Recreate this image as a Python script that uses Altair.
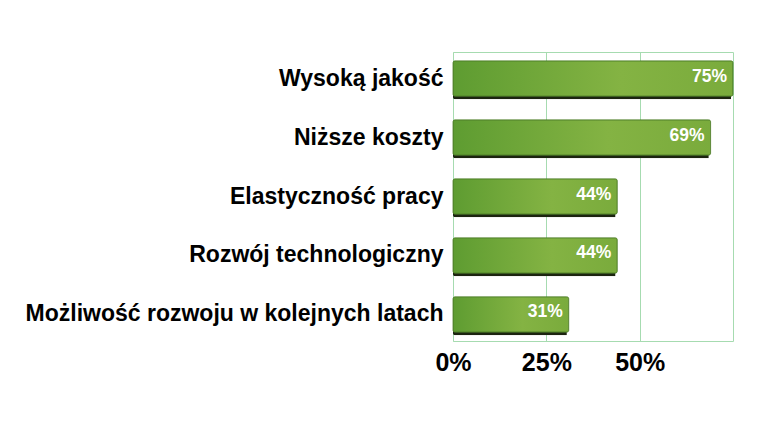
import altair as alt
import pandas as pd

categories = ["Wysoką jakość\u00a0", "Niższe koszty", "Elastyczność pracy",
              "Rozwój technologiczny", "Możliwość rozwoju w kolejnych latach"]
values = [75, 69, 44, 44, 31]
labels = ["75%", "69%", "44%", "44%", "31%"]
tick_values = [0, 25, 50]

df = pd.DataFrame({"cat": categories, "val": values, "lab": labels})

FONT = "Liberation Sans"
GRID = "#a6dbb0"

y_enc = alt.Y("cat:N", sort=categories, title=None,
              scale=alt.Scale(paddingInner=0.4, paddingOuter=0.15),
              axis=alt.Axis(labelFont=FONT, labelFontSize=23, labelFontWeight="bold",
                            labelColor="#000000", labelPadding=10, labelLimit=600,
                            ticks=False, domain=False, grid=False))
x_enc = alt.X("val:Q", title=None, scale=alt.Scale(domain=[0, 75], nice=False),
              axis=alt.Axis(values=tick_values, labelExpr="datum.value + '%'",
                            labelFont=FONT, labelFontSize=25, labelFontWeight="bold",
                            labelColor="#000000", labelPadding=9, ticks=False,
                            domain=False, grid=True, gridColor=GRID, gridWidth=1,
                            labelFlush=False))

base = alt.Chart(df)

shadow = base.mark_bar(color="#1c2410", xOffset=-2, yOffset=3, cornerRadius=2).encode(
    x=x_enc, y=y_enc)

bars = base.mark_bar(
    cornerRadius=2, stroke="#4f7f2a", strokeWidth=0.8,
    color=alt.Gradient(gradient="linear", x1=0, x2=1, y1=0, y2=0,
                       stops=[alt.GradientStop(color="#5e9c31", offset=0),
                              alt.GradientStop(color="#84b343", offset=0.6),
                              alt.GradientStop(color="#7aab3c", offset=1)])
).encode(x=x_enc, y=y_enc)

text = base.mark_text(align="right", dx=-6, dy=-2, font=FONT, fontSize=17.5,
                      fontWeight="bold", color="white").encode(
    x="val:Q", y=alt.Y("cat:N", sort=categories), text="lab:N")

chart = alt.layer(shadow, bars, text).properties(
    width=280, height=289,
    padding={"left": 17, "top": 44, "right": 5, "bottom": 5},
    background="white"
).configure_view(stroke=GRID, strokeWidth=1)

chart.save("out.html", embed_options={"renderer": "svg", "actions": False})
